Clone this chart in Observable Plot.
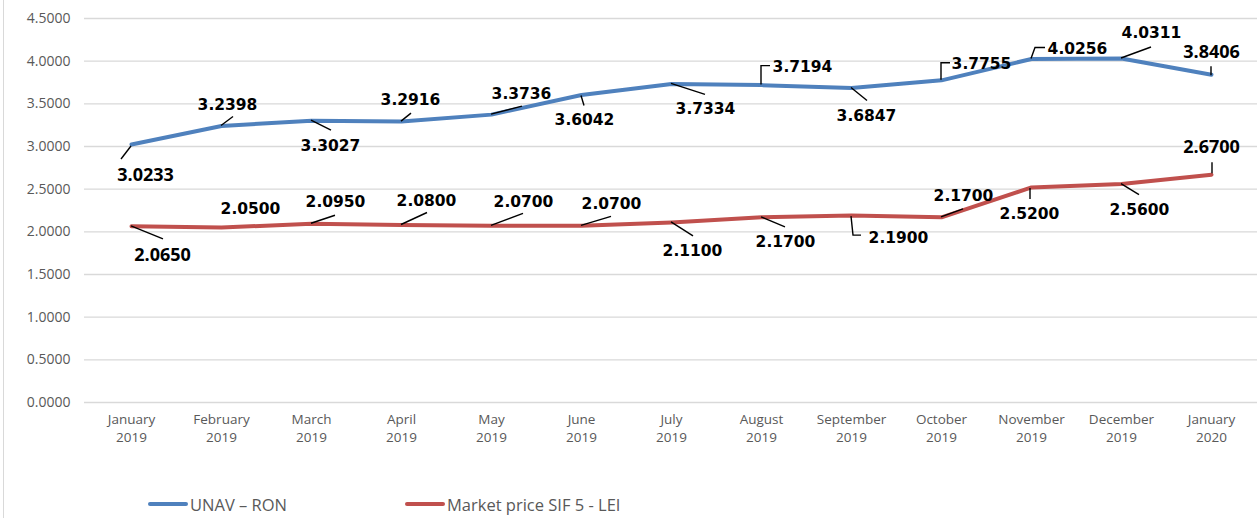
<!DOCTYPE html>
<html>
<head>
<meta charset="utf-8">
<script src="https://cdn.jsdelivr.net/npm/d3@7"></script>
<script src="https://cdn.jsdelivr.net/npm/@observablehq/plot@0.6"></script>
<style>
  html, body { margin: 0; padding: 0; background: #fff; }
  #wrap { position: relative; width: 1257px; height: 518px; overflow: hidden; }
  #frame { position: absolute; left: 3px; top: 0; width: 1px; height: 518px; background: #d9d9d9; }
  #chart { position: absolute; left: 0; top: 0; }
  #legend { position: absolute; left: 0; top: 492px; width: 1257px; height: 24px;
            font-family: "Open Sans", sans-serif; font-size: 16.5px; color: #595959; }
  .item { position: absolute; top: 0; display: flex; align-items: center; height: 24px; white-space: nowrap; }
  .sw { display: inline-block; width: 40px; height: 4px; border-radius: 2px; margin-right: 2px; }
</style>
</head>
<body>
<div id="wrap">
  <div id="frame"></div>
  <div id="chart"></div>
  <div id="legend"></div>
</div>
<script>
// ---- data ----
const months = ["January 2019", "February 2019", "March 2019", "April 2019", "May 2019", "June 2019",
  "July 2019", "August 2019", "September 2019", "October 2019", "November 2019", "December 2019", "January 2020"];
const unavRon = [3.0233, 3.2398, 3.3027, 3.2916, 3.3736, 3.6042, 3.7334, 3.7194, 3.6847, 3.7755, 4.0256, 4.0311, 3.8406];
const marketPrice = [2.0650, 2.0500, 2.0950, 2.0800, 2.0700, 2.0700, 2.1100, 2.1700, 2.1900, 2.1700, 2.5200, 2.5600, 2.6700];
const yTicks = [0, 0.5, 1, 1.5, 2, 2.5, 3, 3.5, 4, 4.5];
const seriesNames = ["UNAV \u2013 RON", "Market price SIF 5 - LEI"];

// ---- label layout (pixel offsets from each point: label centre, leader polyline, big font flag) ----
const unavLayout = [
  {dx: 14, dy: 31, lead: [[0, 2], [-10, 15]], big: true},
  {dx: 6, dy: -21, lead: [[0, 0], [12, -9]]},
  {dx: 19, dy: 25, lead: [[0, 0], [20, 10]]},
  {dx: 9, dy: -22, lead: [[0, 0], [10, -8]]},
  {dx: 30, dy: -21, lead: [[0, 0], [31, -8]]},
  {dx: 3, dy: 25, lead: [[0, 1], [3, 11]]},
  {dx: 34, dy: 25, lead: [[0, 0], [34, 11]]},
  {dx: 41, dy: -18, lead: [[0, 0], [0, -19], [9, -19]]},
  {dx: 15, dy: 28, lead: [[0, 0], [16, 13]]},
  {dx: 40, dy: -16, lead: [[0, 0], [0, -17], [9, -17]]},
  {dx: 46, dy: -10, lead: [[0, 0], [4, -11], [14, -11]]},
  {dx: 30, dy: -25, lead: [[0, 0], [30, -11]]},
  {dx: 0, dy: -23, lead: [[0, 1], [0, -8]], big: true}
];
const marketLayout = [
  {dx: 31, dy: 29, lead: [[0, 0], [32, 13]], big: true},
  {dx: 29, dy: -19, lead: null},
  {dx: 24, dy: -22, lead: [[0, 0], [24, -8]]},
  {dx: 25, dy: -24, lead: [[0, 0], [26, -12]]},
  {dx: 32, dy: -24, lead: [[0, 0], [32, -12]]},
  {dx: 30, dy: -22, lead: [[0, 0], [30, -9]]},
  {dx: 21, dy: 29, lead: [[0, 0], [22, 14]]},
  {dx: 24, dy: 25, lead: [[0, 0], [24, 10]]},
  {dx: 47, dy: 22, lead: [[0, 1], [2, 20], [10, 20]]},
  {dx: 22, dy: -21, lead: [[0, 0], [22, -8]]},
  {dx: -2, dy: 27, lead: [[-1, 1], [-1, 12]]},
  {dx: 18, dy: 26, lead: [[0, 0], [18, 11]]},
  {dx: 0, dy: -27, lead: [[1, -1], [1, -12]], big: true}
];

const blue = "#4F81BD";
const red = "#C0504D";
const gray = "#595959";

const unavData = months.map((m, i) => ({month: m, value: unavRon[i]}));
const marketData = months.map((m, i) => ({month: m, value: marketPrice[i]}));

function leaderMark(values, layout) {
  return (index, scales) => {
    const g = d3.create("svg:g").attr("fill", "none").attr("stroke", "#000").attr("stroke-width", 1.4);
    values.forEach((v, i) => {
      const L = layout[i].lead;
      if (!L) return;
      const px = scales.x(months[i]);
      const py = scales.y(v);
      g.append("path").attr("d", "M" + L.map(p => (px + p[0]) + "," + (py + p[1])).join("L"));
    });
    return g.node();
  };
}

function labelMarks(values, layout) {
  return values.map((v, i) => Plot.text([i], {
    x: d => months[d],
    y: d => values[d],
    text: d => d3.format(".4f")(values[d]),
    dx: layout[i].dx,
    dy: layout[i].dy,
    fontFamily: layout[i].big ? "Open Sans, sans-serif" : "DejaVu Sans, sans-serif",
    fontSize: layout[i].big ? 18 : 15.5,
    fontWeight: "bold",
    fill: "#000"
  }));
}

const chart = Plot.plot({
  width: 1257,
  height: 452,
  marginLeft: 84,
  marginRight: 0,
  marginTop: 18,
  marginBottom: 50,
  style: {fontFamily: "Open Sans, sans-serif", background: "transparent"},
  x: {domain: months, type: "point", padding: 0.5},
  y: {domain: [0, 4.5]},
  marks: [
    Plot.ruleY(yTicks, {stroke: "#d9d9d9", strokeWidth: 1.3}),
    Plot.axisY({ticks: yTicks, tickFormat: d3.format(".4f"), tickSize: 0, tickPadding: 14,
      fontSize: 14, color: gray, label: null}),
    Plot.axisX({tickSize: 0, tickPadding: 9, fontSize: 13.5, color: gray, label: null,
      lineHeight: 1.3, tickFormat: d => d.replace(" ", "\n")}),
    Plot.line(unavData, {x: "month", y: "value", stroke: blue, strokeWidth: 4, strokeLinejoin: "round"}),
    Plot.line(marketData, {x: "month", y: "value", stroke: red, strokeWidth: 4, strokeLinejoin: "round"}),
    leaderMark(unavRon, unavLayout),
    leaderMark(marketPrice, marketLayout),
    ...labelMarks(unavRon, unavLayout),
    ...labelMarks(marketPrice, marketLayout)
  ]
});
document.getElementById("chart").appendChild(chart);

const legend = document.getElementById("legend");
[[seriesNames[0], blue, 148], [seriesNames[1], red, 405]].forEach(([name, color, left]) => {
  const item = document.createElement("div");
  item.className = "item";
  item.style.left = left + "px";
  const sw = document.createElement("span");
  sw.className = "sw";
  sw.style.background = color;
  item.appendChild(sw);
  item.appendChild(document.createTextNode(name));
  legend.appendChild(item);
});
</script>
</body>
</html>
